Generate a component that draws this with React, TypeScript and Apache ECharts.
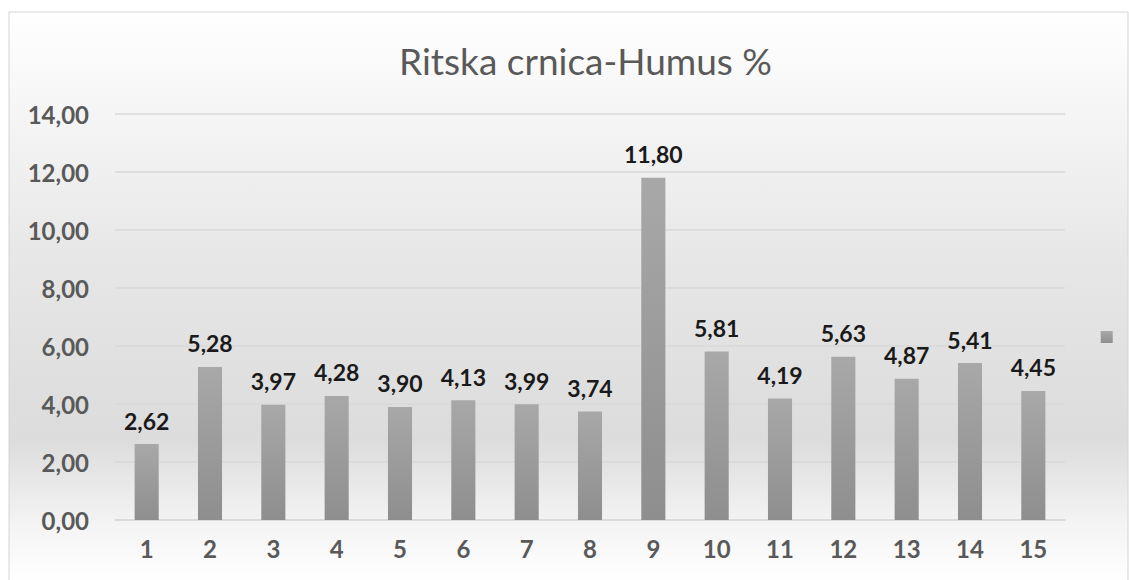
import React, { useEffect, useRef } from "react";
import * as echarts from "echarts";

const categories = ["1", "2", "3", "4", "5", "6", "7", "8", "9", "10", "11", "12", "13", "14", "15"];
const humus = [2.62, 5.28, 3.97, 4.28, 3.9, 4.13, 3.99, 3.74, 11.8, 5.81, 4.19, 5.63, 4.87, 5.41, 4.45];
const titleText = "Ritska crnica-Humus %";

const fmt = (v: number) => v.toFixed(2).replace(".", ",");

export default function App() {
  const ref = useRef<HTMLDivElement>(null);
  useEffect(() => {
    if (!ref.current) return;
    const chart = echarts.init(ref.current, null, { renderer: "svg" });
    const font = "Lato, 'Open Sans', sans-serif";
    chart.setOption({
      animation: false,
      backgroundColor: "#ffffff",
      graphic: [
        {
          type: "rect",
          z: -10,
          silent: true,
          shape: { x: 9, y: 12, width: 1119, height: 570 },
          style: {
            fill: new echarts.graphic.LinearGradient(0, 0, 0, 1, [
              { offset: 0, color: "#ffffff" },
              { offset: 0.45, color: "#e6e6e6" },
              { offset: 0.75, color: "#dcdcdc" },
              { offset: 0.9, color: "#f4f4f4" },
              { offset: 1, color: "#ffffff" },
            ]),
            stroke: "#d4d4d4",
            lineWidth: 1,
          },
        },
      ],
      title: {
        text: titleText,
        left: 394,
        top: 37,
        textStyle: { fontFamily: font, fontSize: 37, fontWeight: "normal", color: "#595959" },
      },
      legend: {
        right: 6,
        top: 326,
        orient: "vertical",
        itemWidth: 12,
        itemHeight: 12,
        icon: "rect",
        data: [{ name: " " }],
        textStyle: { fontSize: 1 },
      },
      grid: { left: 115, right: 64, top: 114, bottom: 60, containLabel: false },
      xAxis: {
        type: "category",
        data: categories,
        axisTick: { show: false },
        axisLine: { lineStyle: { color: "#d9d9d9", width: 1.5 } },
        axisLabel: { fontFamily: font, fontSize: 24, fontWeight: "bold", color: "#595959", margin: 16 },
      },
      yAxis: {
        type: "value",
        min: 0,
        max: 14,
        interval: 2,
        axisLine: { show: false },
        axisTick: { show: false },
        splitLine: { lineStyle: { color: "#d9d9d9", width: 1.5 } },
        axisLabel: {
          fontFamily: font,
          fontSize: 24,
          fontWeight: "bold",
          color: "#595959",
          margin: 26,
          formatter: (v: number) => fmt(v),
        },
      },
      series: [
        {
          name: " ",
          type: "bar",
          data: humus,
          barWidth: "38%",
          itemStyle: {
            color: new echarts.graphic.LinearGradient(0, 0, 0, 1, [
              { offset: 0, color: "#a8a8a8" },
              { offset: 1, color: "#8e8e8e" },
            ]),
          },
          label: {
            show: true,
            position: "top",
            distance: 12,
            fontFamily: font,
            fontSize: 23,
            fontWeight: "bold",
            color: "#1a1a1a",
            formatter: (p: any) => fmt(p.value),
          },
        },
      ],
    });
    return () => chart.dispose();
  }, []);
  return <div ref={ref} style={{ position: "absolute", left: 0, top: 0, width: 1129, height: 580 }} />;
}
